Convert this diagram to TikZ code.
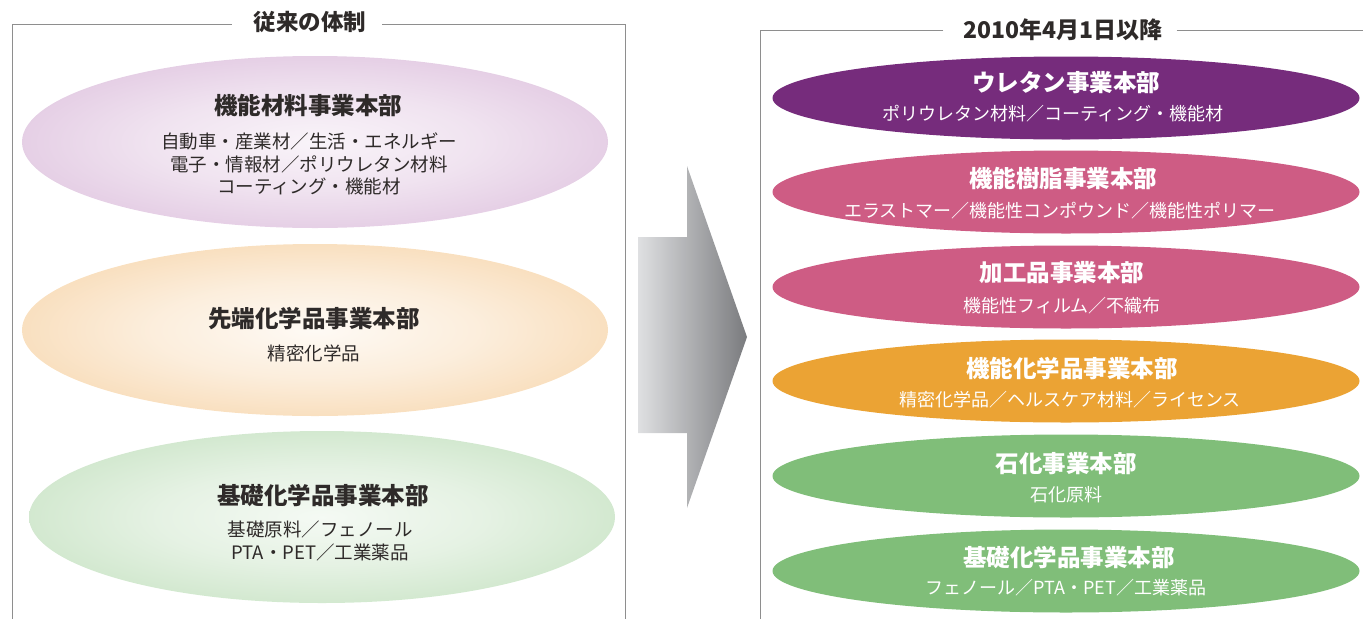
\documentclass[tikz,border=0pt]{standalone}
\usepackage{fontspec}
\setmainfont{Noto Sans CJK JP}
\usetikzlibrary{shapes.geometric}
\definecolor{upur}{HTML}{762C7C}
\definecolor{upink}{HTML}{CE5C84}
\definecolor{uorange}{HTML}{EBA334}
\definecolor{ugreen}{HTML}{80BE79}
\definecolor{lpur}{HTML}{CDA2CD}
\definecolor{lorange}{HTML}{F3C182}
\definecolor{lgreen}{HTML}{A9D3A3}
\definecolor{txt}{HTML}{2E2A29}
\definecolor{framec}{HTML}{8E8E8E}
\definecolor{arrl}{HTML}{DFE0E2}
\definecolor{arrr}{HTML}{7A7B7E}
\pgfdeclareradialshading{purshade}{\pgfpoint{0bp}{0bp}}{color(0bp)=(white!88!lpur); color(14bp)=(white!70!lpur); color(32bp)=(white!35!lpur); color(50bp)=(lpur)}
\pgfdeclareradialshading{orashade}{\pgfpoint{0bp}{0bp}}{color(0bp)=(white!92!lorange); color(14bp)=(white!72!lorange); color(32bp)=(white!35!lorange); color(50bp)=(lorange)}
\pgfdeclareradialshading{grnshade}{\pgfpoint{0bp}{0bp}}{color(0bp)=(white!88!lgreen); color(14bp)=(white!70!lgreen); color(32bp)=(white!35!lgreen); color(50bp)=(lgreen)}
\tikzset{
  frameline/.style={draw=framec, line width=1pt},
  header/.style={font=\fontsize{22.5}{26}\selectfont\bfseries, text=txt, inner sep=0pt},
  lell/.style={ellipse, draw=none, inner sep=0pt, minimum width=586pt, minimum height=172pt, shade},
  rell/.style={ellipse, draw=none, inner sep=0pt, minimum width=587pt, minimum height=83pt},
  ltitle/.style={font=\fontsize{23.5}{27}\selectfont\bfseries, text=txt, inner sep=0pt},
  lsub/.style={font=\fontsize{18.5}{22.5}\selectfont, text=txt, align=center, inner sep=0pt},
  rtitle/.style={font=\fontsize{23.5}{27}\selectfont\bfseries, text=white, inner sep=0pt},
  rsub/.style={font=\fontsize{18}{22}\selectfont, text=white, inner sep=0pt},
}
\begin{document}
\begin{tikzpicture}[x=1pt,y=-1pt]
\useasboundingbox (0,0) rectangle (1363,619);
% frames
\node[header] (hl) at (310,22) {従来の体制};
\node[header, font=\fontsize{23}{26}\selectfont\bfseries] (hr) at (1063,30) {2010年4月1日以降};
\coordinate (lf1) at (12.5,24.3);
\coordinate (lf2) at (12.5,619);
\coordinate (lf3) at (625,24.3);
\coordinate (lf4) at (625,619);
\draw[frameline] (hl.west) ++(-22,2.3) -- (lf1) -- (lf2);
\draw[frameline] (hl.east) ++(16,2.3) -- (lf3) -- (lf4);
\coordinate (rf1) at (760,30.7);
\coordinate (rf2) at (760,619);
\coordinate (rf3) at (1363,30.7);
\draw[frameline] (hr.west) ++(-20,0.7) -- (rf1) -- (rf2);
\draw[frameline] (hr.east) ++(14,0.7) -- (rf3);
% left ellipses
\node[lell, shading=purshade] (l1) at (315,142) {};
\node[lell, shading=orashade] (l2) at (315,330) {};
\node[lell, shading=grnshade] (l3) at (322,517) {};
\node[ltitle] (l1t) at (308,106) {機能材料事業本部};
\node[lsub] (l1s) at (309,164) {自動車・産業材／生活・エネルギー\\電子・情報材／ポリウレタン材料\\コーティング・機能材};
\node[ltitle] (l2t) at (314,319) {先端化学品事業本部};
\node[lsub] (l2s) at (314,353) {精密化学品};
\node[ltitle] (l3t) at (323,496) {基礎化学品事業本部};
\node[lsub] (l3s) at (320,541) {基礎原料／フェノール\\PTA・PET／工業薬品};
% arrow
\shade[left color=arrl, right color=arrr] (638,237) -- (687,237) -- (687,166) -- (747,337) -- (687,508) -- (687,433) -- (638,433) -- cycle;
% right ellipses
\node[rell, fill=upur] (r1) at (1066,98) {};
\node[rell, fill=upink] (r2) at (1066,192) {};
\node[rell, fill=upink] (r3) at (1066,287) {};
\node[rell, fill=uorange] (r4) at (1066,381) {};
\node[rell, fill=ugreen] (r5) at (1066,476) {};
\node[rell, fill=ugreen] (r6) at (1066,571) {};
\node[rtitle] (r1t) at (1066,83) {ウレタン事業本部};
\node[rsub] (r1s) at (1053,114) {ポリウレタン材料／コーティング・機能材};
\node[rtitle] (r2t) at (1063,179) {機能樹脂事業本部};
\node[rsub] (r2s) at (1060,211) {エラストマー／機能性コンポウンド／機能性ポリマー};
\node[rtitle] (r3t) at (1062,273) {加工品事業本部};
\node[rsub] (r3s) at (1062,306) {機能性フィルム／不織布};
\node[rtitle] (r4t) at (1072,369) {機能化学品事業本部};
\node[rsub] (r4s) at (1070,400) {精密化学品／ヘルスケア材料／ライセンス};
\node[rtitle] (r5t) at (1066,464) {石化事業本部};
\node[rsub] (r5s) at (1066,495) {石化原料};
\node[rtitle] (r6t) at (1069,558) {基礎化学品事業本部};
\node[rsub] (r6s) at (1066,588) {フェノール／PTA・PET／工業薬品};
\end{tikzpicture}
\end{document}
